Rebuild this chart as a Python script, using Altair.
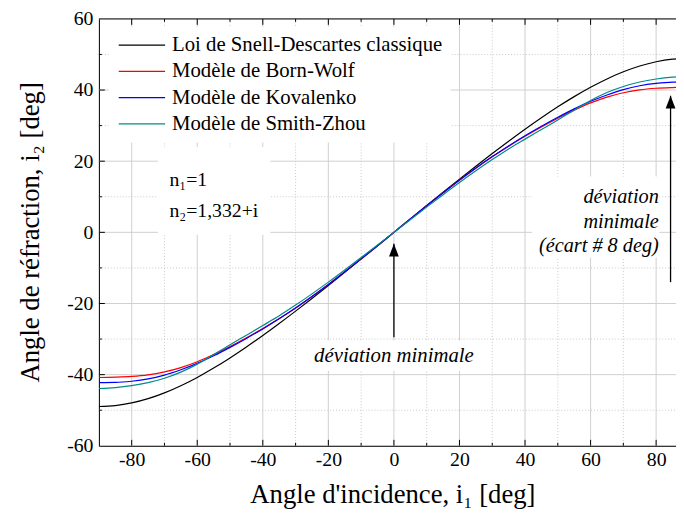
import altair as alt
import pandas as pd

# ---------------- data ----------------
angles = [-90, -85, -80, -75, -70, -65, -60, -55, -50, -45, -40, -35, -30, -25, -20, -15, -10, -5,
          0, 5, 10, 15, 20, 25, 30, 35, 40, 45, 50, 55, 60, 65, 70, 75, 80, 85, 90]

snell = [-48.95, -48.70, -47.96, -46.76, -45.13, -43.12, -40.78, -38.15, -35.29, -32.22, -29.00,
         -25.63, -22.15, -18.59, -14.95, -11.26, -7.53, -3.77, 0,
         3.77, 7.53, 11.26, 14.95, 18.59, 22.15, 25.63, 29.00, 32.22, 35.29, 38.15, 40.78,
         43.12, 45.13, 46.76, 47.96, 48.70, 48.95]

born_wolf = [-40.80, -40.70, -40.50, -40.06, -39.23, -38.02, -36.38, -34.35, -32.09, -29.62, -27.00,
             -24.23, -21.25, -18.04, -14.65, -11.09, -7.45, -3.75, 0,
             3.75, 7.45, 11.09, 14.65, 18.04, 21.25, 24.23, 27.00, 29.62, 32.09, 34.35, 36.38,
             38.02, 39.23, 40.06, 40.50, 40.70, 40.80]

kovalenko = [-42.25, -42.20, -41.86, -41.21, -40.13, -38.62, -36.83, -34.70, -32.34, -29.82, -27.15,
             -24.30, -21.30, -18.06, -14.67, -11.10, -7.46, -3.75, 0,
             3.75, 7.46, 11.10, 14.67, 18.06, 21.30, 24.30, 27.15, 29.82, 32.34, 34.70, 36.83,
             38.62, 40.13, 41.21, 41.86, 42.20, 42.25]

smith_zhou = [-43.90, -43.65, -43.10, -42.25, -41.00, -39.30, -37.05, -34.35, -31.60, -28.90, -26.20,
              -23.45, -20.45, -17.30, -14.00, -10.58, -7.08, -3.55, 0,
              3.55, 7.08, 10.58, 14.00, 17.30, 20.45, 23.45, 26.20, 28.90, 31.60, 34.35, 37.05,
              39.30, 41.00, 42.25, 43.10, 43.65, 43.90]

series_names = ["Loi de Snell-Descartes classique", "Modèle de Born-Wolf",
                "Modèle de Kovalenko", "Modèle de Smith-Zhou"]
series_colors = ["#000000", "#ff0000", "#0000ff", "#008b8b"]

x_major = [-80, -60, -40, -20, 0, 20, 40, 60, 80]
x_minor = [-70, -50, -30, -10, 10, 30, 50, 70]
y_labels = [-60, -40, -20, 0, 20, 40, 60]
y_major = [-40, -20, 0, 20, 40]
y_minor = [-50, -30, -10, 10, 30, 50]

# annotations (data coordinates)
note_x = [-68.5, -68.5]
note_y = [12.9, 4.3]
note_text = ["n₁=1", "n₂=1,332+i"]

dev_x = [0]
dev_y = [-36.4]
dev_text = ["déviation minimale"]

right_x = [80.8, 80.8, 80.8]
right_y = [8.3, 1.2, -5.6]
right_text = ["déviation", "minimale", "(écart # 8 deg)"]

box_x = [-72.0, -27.0, 42.2]
box_x2 = [-37.7, 27.0, 81.0]
box_y = [24.0, -30.4, 15.7]
box_y2 = [-0.7, -39.0, -7.1]

arrow_x = [0, 84.4]
arrow_from = [-29.5, -14.0]
arrow_to = [-3.2, 38.4]

# ---------------- chart ----------------
W, H = 584, 432
FONT = "Liberation Serif"

xs = alt.Scale(domain=[-90, 86.06], nice=False, zero=False)
ys = alt.Scale(domain=[-60, 60], nice=False, zero=False)

X_AX = alt.Axis(values=x_major, title="Angle d'incidence, i₁ [deg]", grid=False, ticks=False,
                labelExpr="'' + datum.value",
                labelFontSize=20, labelPadding=4, labelColor="black", labelFont=FONT,
                domainColor="black", domainWidth=1,
                titleFontSize=27, titleFontWeight="normal", titleFont=FONT, titleColor="black",
                titleX=297, titleY=49, titleBaseline="middle")
Y_AX = alt.Axis(values=y_labels, title="Angle de réfraction, i₂ [deg]", grid=False, ticks=False,
                labelExpr="'' + datum.value",
                labelFontSize=20, labelPadding=6, labelColor="black", labelFont=FONT,
                domainColor="black", domainWidth=1,
                titleFontSize=27, titleFontWeight="normal", titleFont=FONT, titleColor="black",
                titleX=-69, titleY=215.5, titleBaseline="middle")


def X(field):
    return alt.X(field, scale=xs, axis=X_AX)


def Y(field):
    return alt.Y(field, scale=ys, axis=Y_AX)


rows = []
for name, vals in zip(series_names, [snell, born_wolf, kovalenko, smith_zhou]):
    for a, v in zip(angles, vals):
        rows.append({"i1": a, "i2": v, "serie": name})
curves_df = pd.DataFrame(rows)

gx_major = alt.Chart(pd.DataFrame({"v": x_major})).mark_rule(color="#cfcfcf", strokeWidth=1).encode(
    x=X("v:Q"), y=alt.value(0), y2=alt.value(H))
gx_minor = alt.Chart(pd.DataFrame({"v": x_minor})).mark_rule(color="#c8c8c8", strokeWidth=1, strokeDash=[1, 2]).encode(
    x=X("v:Q"), y=alt.value(0), y2=alt.value(H))
gy_major = alt.Chart(pd.DataFrame({"v": y_major})).mark_rule(color="#cfcfcf", strokeWidth=1).encode(
    y=Y("v:Q"), x=alt.value(0), x2=alt.value(W))
gy_minor = alt.Chart(pd.DataFrame({"v": y_minor})).mark_rule(color="#c8c8c8", strokeWidth=1, strokeDash=[1, 2]).encode(
    y=Y("v:Q"), x=alt.value(0), x2=alt.value(W))

boxes = alt.Chart(pd.DataFrame({"x": box_x, "x2": box_x2, "y": box_y, "y2": box_y2})).mark_rect(color="white").encode(
    x=X("x:Q"), x2="x2:Q", y=Y("y:Q"), y2="y2:Q")


def xticks(vals, y0, y1):
    return alt.Chart(pd.DataFrame({"v": vals})).mark_rule(color="black", strokeWidth=1).encode(
        x=X("v:Q"), y=alt.value(y0), y2=alt.value(y1))


def yticks(vals, x1):
    return alt.Chart(pd.DataFrame({"v": vals})).mark_rule(color="black", strokeWidth=1).encode(
        y=Y("v:Q"), x=alt.value(0), x2=alt.value(x1))


ticks = [xticks(x_major, H, H - 6), xticks(x_minor, H, H - 3),
         xticks(x_major, 0, 6), xticks(x_minor, 0, 3),
         yticks(y_major, 6), yticks(y_minor, 3)]

top_frame = alt.Chart(pd.DataFrame({"v": [0]})).mark_rule(color="black", strokeWidth=1).encode(
    x=alt.value(0), x2=alt.value(W), y=alt.value(0))

curves = alt.Chart(curves_df).mark_line(clip=True, strokeWidth=1.2, interpolate="monotone").encode(
    x=X("i1:Q"),
    y=Y("i2:Q"),
    color=alt.Color("serie:N", scale=alt.Scale(domain=series_names, range=series_colors),
                    legend=alt.Legend(orient="none", legendX=10, legendY=8, title=None,
                                      symbolType="M-3.6,0L3.6,0", symbolSize=170,
                                      symbolStrokeWidth=1.2, symbolOffset=15,
                                      labelFont=FONT, labelFontSize=21, labelColor="black",
                                      labelOffset=20, labelLimit=400, padding=8, rowPadding=4.6,
                                      fillColor="white")),
    order=alt.Order("i1:Q"))

notes = alt.Chart(pd.DataFrame({"x": note_x, "y": note_y, "t": note_text})).mark_text(
    align="left", baseline="alphabetic", font=FONT, fontSize=20, color="black").encode(
    x=X("x:Q"), y=Y("y:Q"), text="t:N")

dev = alt.Chart(pd.DataFrame({"x": dev_x, "y": dev_y, "t": dev_text})).mark_text(
    align="center", baseline="alphabetic", font=FONT, fontSize=21, fontStyle="italic", color="black").encode(
    x=X("x:Q"), y=Y("y:Q"), text="t:N")

right = alt.Chart(pd.DataFrame({"x": right_x, "y": right_y, "t": right_text})).mark_text(
    align="right", baseline="alphabetic", font=FONT, fontSize=20.5, fontStyle="italic", color="black").encode(
    x=X("x:Q"), y=Y("y:Q"), text="t:N")

arrows_df = pd.DataFrame({"x": arrow_x, "y0": arrow_from, "y1": arrow_to})
arrow_lines = alt.Chart(arrows_df).mark_rule(color="black", strokeWidth=1.3).encode(
    x=X("x:Q"), y=Y("y0:Q"), y2="y1:Q")
arrow_heads = alt.Chart(arrows_df).mark_point(
    shape="M0,0L0.38,1L-0.38,1Z", size=676, filled=True, color="black", opacity=1).encode(
    x=X("x:Q"), y=Y("y1:Q"))

chart = alt.layer(
    gx_major, gx_minor, gy_major, gy_minor, boxes, *ticks, top_frame,
    curves, notes, dev, right, arrow_lines, arrow_heads
).properties(
    width=W, height=H, autosize="none",
    padding={"left": 92, "top": 8, "right": 0, "bottom": 65},
    background="white"
).configure_view(strokeWidth=0).configure(font=FONT)

chart.save("out.html", embed_options={"renderer": "svg", "actions": False})
